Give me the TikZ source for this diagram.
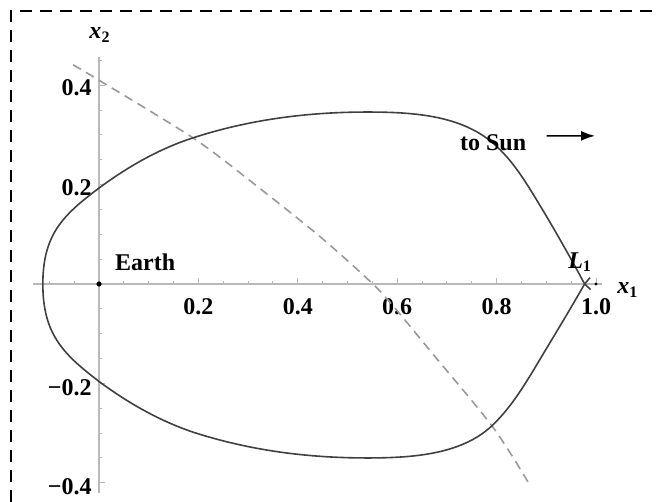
\documentclass[tikz,border=0pt]{standalone}
\usepackage{fontspec}
\setmainfont{Liberation Serif}
\usetikzlibrary{arrows.meta}

\tikzset{
  axisline/.style={gray!55, line width=0.7pt},
  orbit/.style={black!75, line width=0.8pt},
  track/.style={gray!80, line width=0.8pt, dash pattern=on 4.5pt off 3pt},
  lbl/.style={font=\fontsize{12}{14}\selectfont\bfseries, inner sep=0pt}
}

\begin{document}
\begin{tikzpicture}[x=248.5pt, y=248.5pt]
  \useasboundingbox (-0.1992,-0.4386) rectangle (1.1247,0.5714);
  \draw[line width=1.2pt, dash pattern=on 6pt off 4pt] (-0.177,-0.6) rectangle (1.3,0.549);
  % axes
  \draw[axisline] (-0.133,0) -- (1.012,0);
  \draw[axisline] (0,-0.42) -- (0,0.457);
  \foreach \x in {-0.1,-0.05,0.05,0.1,0.15,0.25,0.3,0.35,0.45,0.5,0.55,0.65,0.7,0.75,0.85,0.9,0.95}
    { \draw[axisline, line width=0.5pt] (\x,0) -- (\x,0.007); }
  \foreach \x in {0.2,0.4,0.6,0.8,1.0}
    { \draw[axisline, line width=0.5pt] (\x,0) -- (\x,0.012); }
  \foreach \y in {-0.35,-0.3,-0.25,-0.15,-0.1,-0.05,0.05,0.1,0.15,0.25,0.3,0.35,0.45}
    { \draw[axisline, line width=0.5pt] (0,\y) -- (0.007,\y); }
  \foreach \y in {-0.4,-0.2,0.2,0.4}
    { \draw[axisline, line width=0.5pt] (0,\y) -- (0.012,\y); }
  % tick labels
  \foreach \x [count=\i] in {0.2,0.4,0.6,0.8,1.0}
    { \node[lbl] (xt\i) at (\x,-0.045) {\x}; }
  \node[lbl, anchor=east] (yt1) at (-0.014,0.394) {0.4};
  \node[lbl, anchor=east] (yt2) at (-0.014,0.194) {0.2};
  \node[lbl, anchor=east] (yt3) at (-0.014,-0.208) {−0.2};
  \node[lbl, anchor=east] (yt4) at (-0.014,-0.407) {−0.4};
  \node[lbl] (xone) at (1.064,-0.012) {\textit{x}\textsubscript{1}};
  \node[lbl] (xtwo) at (0.002,0.501) {\textit{x}\textsubscript{2}};
  % the moon's track
  \draw[track] plot[smooth] coordinates {(-0.052,0.441) (0,0.41) (0.189,0.294) (0.31,0.203)
    (0.445,0.095) (0.551,0) (0.6,-0.054) (0.666,-0.134) (0.791,-0.286) (0.863,-0.398)};
  % zero velocity curve, upper and lower half
  \draw[orbit] (-0.113,0) .. controls (-0.113,0.10) and (-0.072,0.139) .. (0,0.193)
    .. controls (0.058,0.236) and (0.121,0.272) .. (0.189,0.294)
    .. controls (0.303,0.331) and (0.42,0.346) .. (0.54,0.346)
    .. controls (0.64,0.346) and (0.736,0.338) .. (0.801,0.276)
    .. controls (0.833,0.246) and (0.857,0.208) .. (0.88,0.17)
    .. controls (0.914,0.114) and (0.946,0.058) .. (0.977,0) -- (0.989,-0.011);
  \draw[orbit] (-0.113,0) .. controls (-0.113,-0.101) and (-0.072,-0.141) .. (0,-0.196)
    .. controls (0.058,-0.239) and (0.121,-0.275) .. (0.189,-0.298)
    .. controls (0.303,-0.335) and (0.42,-0.350) .. (0.54,-0.350)
    .. controls (0.64,-0.350) and (0.736,-0.341) .. (0.796,-0.280)
    .. controls (0.828,-0.248) and (0.852,-0.210) .. (0.875,-0.172)
    .. controls (0.909,-0.115) and (0.944,-0.058) .. (0.977,0) -- (0.988,0.013);
  % bodies and labels
  \fill (0,0) circle (1.3pt);
  \fill (1.0,0) circle (0.8pt);
  \node[lbl] (earth) at (0.093,0.044) {Earth};
  \node[lbl] (lone) at (0.968,0.044) {\textit{L}\textsubscript{1}};
  \node[lbl] (tosun) at (0.793,0.284) {to Sun};
  \coordinate (sunward) at (0.998,0.298);
  \draw[line width=0.8pt, -{Latex[length=7pt, width=5pt]}, black]
    ([xshift=10pt, yshift=3.5pt]tosun.east) -- (sunward);
\end{tikzpicture}
\end{document}
